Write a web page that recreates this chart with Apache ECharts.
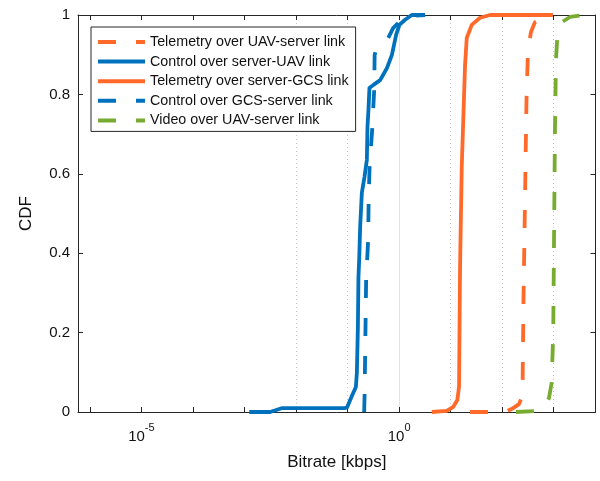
<!DOCTYPE html>
<html><head><meta charset="utf-8">
<script src="https://cdn.jsdelivr.net/npm/echarts@6/dist/echarts.min.js"></script>
<style>html,body{margin:0;padding:0;background:#fff}#c{width:600px;height:481px}</style>
</head><body><div id="c"></div>
<script>
// ---- data (bitrate in kbps, CDF) ----
const seriesNames = [
  'Telemetry over UAV-server link',
  'Control over server-UAV link',
  'Telemetry over server-GCS link',
  'Control over GCS-server link',
  'Video over UAV-server link'
];
const telemUavX = [23.77, 113.2, 154.9, 211.8, 247.2, 258.8, 276.7, 295.8, 316.2, 361.4, 432.5, 674.5];
const telemUavY = [0, 0, 0.008, 0.020, 0.040, 0.282, 0.534, 0.786, 0.912, 0.957, 0.982, 0.997];
const ctrlSrvX = [0.001239, 0.003162, 0.005408, 0.08974, 0.09817, 0.1122, 0.1285, 0.1449, 0.1514, 0.1585, 0.1626, 0.1679, 0.1754, 0.1892, 0.2128, 0.2366, 0.2432, 0.2541, 0.2655, 0.3177, 0.4285, 0.5781, 0.7228, 0.8750, 1.014, 1.306, 1.762, 3.192];
const ctrlSrvY = [0, 0, 0.010, 0.010, 0.012, 0.030, 0.048, 0.063, 0.098, 0.214, 0.340, 0.383, 0.466, 0.552, 0.592, 0.635, 0.718, 0.761, 0.816, 0.824, 0.836, 0.866, 0.899, 0.950, 0.975, 0.988, 1.0, 1.0];
const telemGcsX = [4.305, 8.395, 11.27, 13.49, 14.55, 15.21, 16.41, 19.01, 20.51, 25.64, 37.15, 58.08, 963.9];
const telemGcsY = [0, 0.003, 0.013, 0.030, 0.064, 0.365, 0.617, 0.874, 0.942, 0.975, 0.993, 1.0, 1.0];
const ctrlGcsX = [0.2099, 0.2143, 0.2291, 0.2506, 0.2564, 0.2679, 0.2999, 0.3281, 0.3350, 0.3581, 0.4285, 0.6124, 0.7656, 1.045, 1.633, 3.192];
const ctrlGcsY = [0, 0.048, 0.332, 0.433, 0.534, 0.622, 0.710, 0.811, 0.899, 0.912, 0.917, 0.942, 0.967, 0.985, 0.997, 1.0];
const videoX = [184.9, 540.8, 706.3, 807.2, 909.9, 977.2, 1054, 1104, 1180, 1442, 2061, 3681];
const videoY = [0, 0.003, 0.020, 0.035, 0.073, 0.199, 0.703, 0.887, 0.950, 0.982, 0.995, 1.0];

const xTickValues = [1e-6, 1e-5, 1e-4, 1e-3, 1e-2, 1e-1, 1, 1e1, 1e2, 1e3];
const xLabelValues = [1e-5, 1];
const xMin = Math.pow(10, -6.23), xMax = Math.pow(10, 3.81);

const ORANGE = '#FF6A2B', BLUE = '#0072BD', GREEN = '#77AC30';
const DASH = [18, 20];
const AX = '#262626';
const FONT = 'Liberation Sans, Arial, Helvetica, sans-serif';

function zip(xs, ys) { return xs.map((x, i) => [x, ys[i]]); }
function lineSeries(name, xs, ys, color, dashed) {
  return {
    name: name, type: 'line', data: zip(xs, ys), showSymbol: false, symbol: 'none',
    smooth: false, animation: false, color: color,
    itemStyle: { color: color },
    lineStyle: { color: color, width: 3.8, type: dashed ? DASH : 'solid', cap: 'butt', join: 'round' },
    z: 3
  };
}
function isLabel(v) { return xLabelValues.some(t => Math.abs(Math.log10(v) - Math.log10(t)) < 1e-6); }

const gridLines = xTickValues.map(v => ({
  xAxis: v,
  lineStyle: isLabel(v)
    ? { color: '#e3e3e3', width: 1, type: 'solid' }
    : { color: '#c6c6c6', width: 1, type: [1, 3] }
}));

const option = {
  backgroundColor: '#fff',
  animation: false,
  textStyle: { fontFamily: FONT },
  grid: { left: 78, right: 4.5, top: 15, bottom: 69, containLabel: false },
  legend: {
    orient: 'vertical', left: 91, top: 27,
    data: seriesNames,
    itemWidth: 47, itemHeight: 14, itemGap: 5.6,
    padding: [8, 7, 4, 5],
    borderColor: AX, borderWidth: 1, backgroundColor: '#fff',
    itemStyle: { opacity: 0 },
    lineStyle: { width: 4 },
    textStyle: { fontSize: 14.3, lineHeight: 14, color: '#111', fontFamily: FONT },
    selectedMode: false, z: 10
  },
  xAxis: [
    {
      type: 'log', logBase: 10, min: xMin, max: xMax, position: 'bottom',
      name: 'Bitrate [kbps]', nameLocation: 'middle', nameGap: 42,
      nameTextStyle: { fontSize: 17, color: '#111', fontFamily: FONT },
      axisLine: { show: true, onZero: false, lineStyle: { color: AX, width: 1 } },
      axisTick: { show: true, inside: true, length: 5, lineStyle: { color: AX }, customValues: xTickValues },
      axisLabel: {
        show: true, margin: 10, customValues: xLabelValues,
        formatter: function (v) { const e = Math.round(Math.log10(v)); return '{a|10}{b|' + e + '}'; },
        rich: {
          a: { fontSize: 15, color: '#111', fontFamily: FONT, verticalAlign: 'bottom', lineHeight: 22 },
          b: { fontSize: 11, color: '#111', fontFamily: FONT, verticalAlign: 'top', lineHeight: 14 }
        }
      },
      splitLine: { show: false }
    },
    {
      type: 'log', logBase: 10, min: xMin, max: xMax, position: 'top',
      axisLine: { show: true, onZero: false, lineStyle: { color: AX, width: 1 } },
      axisTick: { show: true, inside: true, length: 5, lineStyle: { color: AX }, customValues: xTickValues },
      axisLabel: { show: false }, splitLine: { show: false }
    }
  ],
  yAxis: [
    {
      type: 'value', min: 0, max: 1, interval: 0.2, position: 'left',
      name: 'CDF', nameLocation: 'middle', nameGap: 43,
      nameTextStyle: { fontSize: 17, color: '#111', fontFamily: FONT },
      axisLine: { show: true, onZero: false, lineStyle: { color: AX, width: 1 } },
      axisTick: { show: true, inside: true, length: 5, lineStyle: { color: AX } },
      axisLabel: { show: true, margin: 8, fontSize: 15, color: '#111', fontFamily: FONT,
        formatter: v => String(Math.round(v * 10) / 10) },
      splitLine: { show: false }
    },
    {
      type: 'value', min: 0, max: 1, interval: 0.2, position: 'right',
      axisLine: { show: true, onZero: false, lineStyle: { color: AX, width: 1 } },
      axisTick: { show: true, inside: true, length: 5, lineStyle: { color: AX } },
      axisLabel: { show: false }, splitLine: { show: false }
    }
  ],
  series: [
    {
      name: '__grid', type: 'line', data: [], silent: true, z: 0,
      markLine: { silent: true, symbol: ['none', 'none'], label: { show: false }, z: 0,
        animation: false, data: gridLines }
    },
    lineSeries(seriesNames[0], telemUavX, telemUavY, ORANGE, true),
    lineSeries(seriesNames[1], ctrlSrvX, ctrlSrvY, BLUE, false),
    lineSeries(seriesNames[2], telemGcsX, telemGcsY, ORANGE, false),
    lineSeries(seriesNames[3], ctrlGcsX, ctrlGcsY, BLUE, true),
    lineSeries(seriesNames[4], videoX, videoY, GREEN, true)
  ]
};
const chart = echarts.init(document.getElementById('c'), null, { renderer: 'canvas' });
chart.setOption(option);
</script></body></html>
